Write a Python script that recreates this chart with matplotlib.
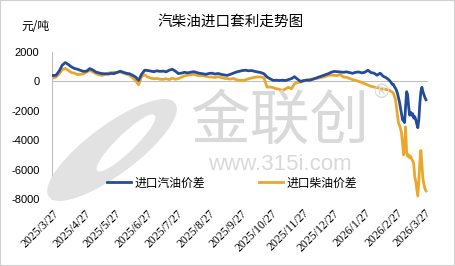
import pandas as pd
import matplotlib
matplotlib.use('Agg')
from matplotlib import pyplot as plt
from matplotlib.patches import Ellipse, Rectangle

plt.rcParams['font.family'] = ['Noto Sans CJK SC', 'DejaVu Sans']

# 3-day samples up to 2026/2/20, daily after that
dates_a = pd.date_range('2025-03-27', periods=111, freq='3D')
dates_b = pd.date_range('2026-02-21', periods=36, freq='D')
dates = dates_a.append(dates_b)

gasoline_a = [
    400, 420, 700, 1100, 1280, 1150, 990, 880, 830, 750,
    680, 700, 870, 780, 640, 580, 530, 520, 500, 540,
    530, 620, 690, 620, 550, 520, 420, 300, 70, 500,
    760, 740, 700, 660, 720, 680, 700, 650, 760, 830,
    700, 530, 560, 620, 580, 620, 660, 600, 550, 520,
    480, 540, 560, 500, 540, 480, 440, 410, 480, 560,
    640, 690, 740, 760, 720, 740, 680, 640, 600, 520,
    300, 180, 70, 80, 60, 80, 60, 120, 190, 320,
    150, 0, 60, 80, 80, 150, 220, 300, 370, 450,
    520, 620, 680, 660, 640, 620, 650, 600, 550, 620,
    640, 580, 620, 760, 600, 560, 420, 560, 350, 250,
    80,
]
gasoline_b = [
    0, -100, -200, -200, -350, -450, -600, -800, -1100, -1400,
    -1800, -2200, -2600, -2700, -2800, -1800, -700, -900, -1700, -2300,
    -2100, -2300, -2200, -2500, -2400, -2600, -2900, -3150, -2600, -1500,
    -700, -400, -700, -900, -1100, -1250,
]
diesel_a = [
    230, 300, 500, 800, 880, 750, 600, 560, 460, 480,
    520, 640, 760, 650, 530, 450, 400, 480, 560, 600,
    620, 600, 640, 560, 500, 420, 250, 70, -230, 350,
    450, 300, 220, 180, 200, 150, 140, 180, 120, 220,
    150, 190, 280, 380, 420, 450, 480, 420, 380, 400,
    340, 300, 300, 260, 320, 260, 210, 190, 160, 200,
    120, 70, 70, 110, 180, 230, 280, 300, 300, 250,
    -390, -380, -420, -500, -530, -620, -520, -400, -500, -160,
    -80, -50, 20, 100, 140, 160, 200, 230, 280, 330,
    410, 430, 410, 400, 460, 300, 280, 200, 120, 70,
    0, -80, -160, -250, -330, -390, -420, -460, -500, -550,
    -600,
]
diesel_b = [
    -650, -700, -740, -800, -1000, -1200, -1700, -2300, -2800, -3000,
    -3200, -3500, -4200, -5000, -4500, -3100, -4800, -5100, -5000, -5200,
    -5100, -5300, -5400, -5600, -6500, -6800, -7300, -7800, -6800, -5500,
    -4700, -5600, -6600, -7000, -7300, -7450,
]
gasoline = gasoline_a + gasoline_b
diesel = diesel_a + diesel_b

tick_dates = pd.date_range('2025-03-27', '2026-03-27', freq=pd.DateOffset(months=1))
tick_labels = [f'{d.year}/{d.month}/{d.day}' for d in tick_dates]
y_ticks = [2000, 0, -2000, -4000, -6000, -8000]

W, H = 455, 266
fig = plt.figure(figsize=(4.55, 2.66), dpi=100)
ax = fig.add_axes([52 / W, 67 / H, 376 / W, 147 / H])

# watermark (logo, name, site)
wm = '#d9d9d9'
fig.patches.append(Ellipse((112 / W, 1 - 150 / H), 62 / W, 120 / H, angle=-35,
                           transform=fig.transFigure, color='#e2e2e2', zorder=0))
fig.patches.append(Ellipse((126 / W, 1 - 143 / H), 20 / W, 64 / H, angle=-30,
                           transform=fig.transFigure, color='white', zorder=0))
fig.text(280 / W, 1 - 123 / H, '金联创', fontsize=43, color=wm, ha='center', va='center', zorder=0)
fig.text(280 / W, 1 - 165 / H, 'www.315i.com', fontsize=16, color=wm, ha='center', va='center',
         family='Liberation Sans', zorder=0)
fig.text(381 / W, 1 - 92 / H, '®', fontsize=14, color=wm, ha='center', va='center',
         family='DejaVu Sans', zorder=0)
ax.patch.set_alpha(0)

ax.plot(dates, gasoline, color='#244c9b', lw=2.0, label='进口汽油价差', zorder=3)
ax.plot(dates, diesel, color='#e9a72b', lw=2.0, label='进口柴油价差', zorder=2)
ax.axhline(0, color='#bfbfbf', lw=0.8, zorder=1)

ax.set_xlim(pd.Timestamp('2025-03-26'), pd.Timestamp('2026-03-30'))
ax.set_ylim(-8000, 2000)
ax.set_yticks(y_ticks)
ax.set_yticklabels([str(v) for v in y_ticks], family='Liberation Sans', fontsize=8)
ax.set_xticks(tick_dates)
ax.set_xticklabels(tick_labels, rotation=45, ha='right', rotation_mode='anchor',
                   family='Liberation Serif', fontsize=8.5)
ax.tick_params(axis='both', length=0)
ax.tick_params(axis='x', pad=6)
ax.tick_params(axis='y', pad=9)
for s in ('top', 'right', 'bottom'):
    ax.spines[s].set_visible(False)
ax.spines['left'].set_color('#bfbfbf')
ax.spines['left'].set_linewidth(0.8)

fig.text(231 / W, 1 - 22 / H, '汽柴油进口套利走势图', fontsize=10.5, ha='center', va='center')
fig.text(35 / W, 1 - 27 / H, '元/吨', fontsize=8.5, ha='center', va='center')

fig.legend(loc='center', bbox_to_anchor=(232 / W, 1 - 183 / H), ncol=2, frameon=False,
           fontsize=8.5, handlelength=2.1, handletextpad=0.3, columnspacing=4.5)

fig.patches.append(Rectangle((0, 0), 1, 1, transform=fig.transFigure, fill=False,
                             edgecolor='#d0d0d0', lw=1.5, zorder=5))

fig.savefig('out.png', dpi=100)
